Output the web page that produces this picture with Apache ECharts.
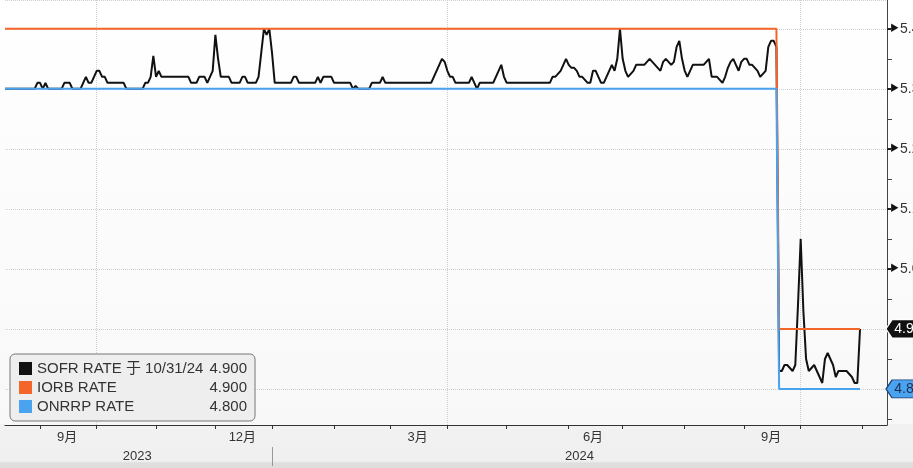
<!DOCTYPE html>
<html><head><meta charset="utf-8">
<script src="https://cdn.jsdelivr.net/npm/echarts@6/dist/echarts.min.js"></script>
<style>html,body{margin:0;padding:0;background:#f0f0f0;}#c{width:913px;height:468px;}</style>
</head><body><div id="c"></div>
<script>
// ---- data ----
const axisStart = '2023-08-15';
const axisEnd = '2024-11-14';
const lastObs = '2024-10-31';
const seriesNames = ['SOFR RATE', 'IORB RATE', 'ONRRP RATE'];
const legendNames = ['SOFR RATE 于 10/31/24', 'IORB RATE', 'ONRRP RATE'];
const sofrValues = [
5.30,5.30,5.30,5.30,5.30,5.30,5.30,5.30,5.30,5.30,
5.30,5.30,5.31,5.31,5.30,5.31,5.30,5.30,5.30,5.30,
5.30,5.30,5.31,5.31,5.31,5.30,5.30,5.30,5.30,5.31,
5.32,5.31,5.31,5.32,5.33,5.33,5.32,5.32,5.31,5.31,
5.31,5.31,5.31,5.31,5.31,5.30,5.30,5.30,5.30,5.30,
5.30,5.30,5.31,5.31,5.32,5.355,5.32,5.33,5.32,5.32,
5.32,5.32,5.32,5.32,5.32,5.32,5.32,5.32,5.32,5.31,
5.31,5.31,5.32,5.32,5.32,5.31,5.32,5.33,5.39,5.35,
5.32,5.32,5.32,5.32,5.31,5.31,5.31,5.31,5.32,5.32,
5.31,5.31,5.31,5.31,5.32,5.36,5.40,5.39,5.40,5.36,
5.31,5.31,5.31,5.31,5.31,5.31,5.31,5.32,5.32,5.31,
5.31,5.31,5.31,5.31,5.31,5.31,5.32,5.31,5.32,5.32,
5.32,5.32,5.31,5.31,5.31,5.31,5.31,5.31,5.31,5.30,
5.305,5.30,5.30,5.30,5.30,5.30,5.31,5.31,5.31,5.31,
5.32,5.31,5.31,5.31,5.31,5.31,5.31,5.31,5.31,5.31,
5.31,5.31,5.31,5.31,5.31,5.31,5.31,5.31,5.31,5.32,
5.33,5.34,5.35,5.345,5.33,5.32,5.32,5.31,5.31,5.31,
5.31,5.31,5.31,5.32,5.31,5.30,5.31,5.31,5.31,5.31,
5.31,5.31,5.32,5.33,5.34,5.32,5.31,5.31,5.31,5.31,
5.31,5.31,5.31,5.31,5.31,5.31,5.31,5.31,5.31,5.31,
5.31,5.31,5.31,5.32,5.32,5.325,5.33,5.34,5.35,5.34,
5.335,5.335,5.33,5.32,5.32,5.315,5.31,5.31,5.33,5.33,
5.32,5.31,5.31,5.32,5.33,5.34,5.33,5.35,5.40,5.35,
5.33,5.32,5.325,5.33,5.34,5.34,5.34,5.34,5.345,5.35,
5.345,5.34,5.335,5.33,5.345,5.35,5.345,5.34,5.345,5.37,
5.38,5.35,5.33,5.32,5.33,5.34,5.34,5.34,5.34,5.34,
5.345,5.35,5.32,5.32,5.32,5.315,5.31,5.32,5.335,5.345,
5.35,5.34,5.33,5.345,5.35,5.35,5.34,5.34,5.335,5.33,
5.32,5.325,5.33,5.37,5.38,5.38,5.37,4.83,4.83,4.84,
4.84,4.835,4.83,4.84,4.94,5.05,4.93,4.85,4.83,4.835,
4.84,4.83,4.82,4.81,4.85,4.86,4.85,4.84,4.82,4.83,
4.83,4.83,4.83,4.825,4.82,4.81,4.81,4.90
];
const policyChangeDates = ['2023-08-15', '2024-09-19'];
const iorbLevels = [5.40, 4.90];
const onrrpLevels = [5.30, 4.80];
const yLabelValues = [5.0, 5.1, 5.2, 5.3, 5.4];
const yHalfTicks = [4.75, 4.85, 4.95, 5.05, 5.15, 5.25, 5.35];
const quarterLabelMonths = [3, 6, 9, 12];
const verticalGridMonths = [4, 10];
const colors = ['#111111', '#f4652a', '#4aa3ef'];

// ---- build categories (business days) ----
function weekdays(a, b) {
  const out = [];
  const d = new Date(a + 'T00:00:00Z'), e = new Date(b + 'T00:00:00Z');
  while (d <= e) {
    const w = d.getUTCDay();
    if (w !== 0 && w !== 6) out.push(d.toISOString().slice(0, 10));
    d.setUTCDate(d.getUTCDate() + 1);
  }
  return out;
}
const dates = weekdays(axisStart, axisEnd);
const obsCount = dates.filter(d => d <= lastObs).length;
const shift = obsCount - sofrValues.length;
const sofrData = dates.map((d, i) => (i < obsCount && i - shift >= 0) ? sofrValues[i - shift] : null);
function stepSeries(levels) {
  return dates.map(d => {
    if (d > lastObs) return null;
    let v = null;
    policyChangeDates.forEach((c, k) => { if (d >= c) v = levels[k]; });
    return v;
  });
}
const iorbData = stepSeries(iorbLevels);
const onrrpData = stepSeries(onrrpLevels);

const firstOfMonth = dates.map((d, i) => i === 0 ? false : d.slice(0, 7) !== dates[i - 1].slice(0, 7));
const monthMid = new Set();
(function () {
  const groups = {};
  dates.forEach((d, i) => { const k = d.slice(0, 7); (groups[k] = groups[k] || []).push(i); });
  Object.keys(groups).forEach(k => {
    const g = groups[k];
    const m = +k.slice(5, 7);
    if (g.length > 15 && quarterLabelMonths.includes(m)) monthMid.add(g[Math.floor((g.length - 1) / 2)]);
  });
})();
const yearMid = new Set();
let yearBoundary = -1;
(function () {
  const groups = {};
  dates.forEach((d, i) => { const k = d.slice(0, 4); (groups[k] = groups[k] || []).push(i); });
  Object.keys(groups).forEach(k => {
    const g = groups[k];
    yearMid.add(Math.round((g[0] + g[g.length - 1]) / 2));
    if (g[0] > 0) yearBoundary = g[0];
  });
})();

const lastIdx = obsCount - 1;
const legendValue = {
  'SOFR RATE': sofrData[lastIdx].toFixed(3),
  'IORB RATE': iorbData[lastIdx].toFixed(3),
  'ONRRP RATE': onrrpData[lastIdx].toFixed(3)
};
const legendLabel = {};
seriesNames.forEach((n, i) => legendLabel[n] = legendNames[i]);

const FONT = '"Liberation Sans", "Noto Sans CJK SC", sans-serif';
const chart = echarts.init(document.getElementById('c'), null, {renderer: 'canvas'});
const yMin = 4.74, yMax = 5.448;

function tag(value, fill, border, textColor) {
  return {
    symbol: 'path://M0,9L6,0L30,0L30,18L6,18Z',
    symbolSize: [30, 18],
    symbolOffset: [14, 0],
    data: [{coord: [dates[dates.length - 1], value], value: value}],
    itemStyle: {color: fill, borderColor: border, borderWidth: 1},
    label: {show: true, position: 'inside', offset: [3, 0], formatter: value.toFixed(1),
      color: textColor, fontSize: 14, fontFamily: FONT},
    silent: true,
    animation: false
  };
}

chart.setOption({
  animation: false,
  backgroundColor: {type: 'linear', x: 0, y: 0, x2: 0, y2: 1,
    colorStops: [{offset: 0, color: '#ffffff'}, {offset: 0.905, color: '#f8f8f8'},
                 {offset: 0.906, color: '#f1f1f1'}, {offset: 0.985, color: '#f0f0f0'}, {offset: 0.99, color: '#dedede'}, {offset: 1, color: '#dedede'}]},
  grid: {left: 5, right: 26, top: 0, bottom: 43, show: true, borderWidth: 0,
    outerBoundsMode: 'none', containLabel: false,
    backgroundColor: {type: 'linear', x: 0, y: 0, x2: 0, y2: 1,
      colorStops: [{offset: 0, color: '#ffffff'}, {offset: 1, color: '#f8f8f8'}]}},
  legend: {
    left: 10, top: 354, orient: 'vertical', icon: 'rect', itemWidth: 13, itemHeight: 13, itemGap: 4,
    padding: [7, 8, 7, 9], backgroundColor: '#eeeeee', borderColor: '#777', borderWidth: 1, borderRadius: 5,
    selectedMode: false,
    data: seriesNames,
    formatter: n => `{n|${legendLabel[n]}}{v|${legendValue[n]}}`,
    textStyle: {fontFamily: FONT, fontSize: 15, color: '#333',
      rich: {n: {width: 170, fontFamily: FONT, fontSize: 15, color: '#333'},
             v: {width: 40, align: 'right', fontFamily: FONT, fontSize: 15, color: '#333'}}}
  },
  xAxis: [{
    type: 'category', data: dates, boundaryGap: false, position: 'bottom',
    axisLine: {lineStyle: {color: '#333', width: 1}},
    axisTick: {interval: (i) => firstOfMonth[i], length: 4, lineStyle: {color: '#333'}},
    axisLabel: {interval: (i) => monthMid.has(i), formatter: v => (+v.slice(5, 7)) + '月',
      margin: 6, color: '#333', fontSize: 13, fontFamily: FONT},
    splitLine: {show: true, interval: (i) => firstOfMonth[i] && verticalGridMonths.includes(+dates[i].slice(5, 7)),
      lineStyle: {color: '#cfcfcf', type: 'dotted', width: 1}}
  }, {
    type: 'category', data: dates, boundaryGap: false, position: 'bottom', offset: 22,
    axisLine: {show: false},
    axisTick: {interval: (i) => i === yearBoundary, length: 19, lineStyle: {color: '#999'}},
    axisLabel: {interval: (i) => yearMid.has(i), formatter: v => v.slice(0, 4),
      margin: 3, color: '#333', fontSize: 13, fontFamily: FONT},
    splitLine: {show: false}
  }],
  yAxis: [{
    type: 'value', position: 'right', min: yMin, max: yMax, splitNumber: 7, minInterval: 0.1, maxInterval: 0.1,
    axisLine: {show: true, lineStyle: {color: '#444', width: 1}},
    axisTick: {show: true, length: 4, lineStyle: {color: '#222', width: 2}},
    axisLabel: {showMinLabel: false, showMaxLabel: false, margin: 3,
      formatter: v => yLabelValues.some(t => Math.abs(t - v) < 1e-6) ? '{t|▶}' + v.toFixed(1) : '',
      color: '#333', fontSize: 14, fontFamily: FONT,
      rich: {t: {fontSize: 9, color: '#111', padding: [0, 1, 0, 0]}}},
    splitLine: {show: true, lineStyle: {color: '#cfcfcf', type: 'dotted', width: 1}}
  }, {
    type: 'value', position: 'right', min: yMin, max: yMax,
    axisLine: {show: false},
    axisTick: {show: true, customValues: yHalfTicks, length: 5, lineStyle: {color: '#444'}},
    axisLabel: {show: false},
    splitLine: {show: false}
  }],
  series: [{
    name: seriesNames[0], type: 'line', data: sofrData, showSymbol: false, symbol: 'none', z: 3,
    lineStyle: {color: colors[0], width: 2}, itemStyle: {color: colors[0]},
    markPoint: tag(sofrData[lastIdx], '#111', '#fff', '#fff')
  }, {
    name: seriesNames[1], type: 'line', data: iorbData, showSymbol: false, symbol: 'none', z: 4,
    lineStyle: {color: colors[1], width: 2}, itemStyle: {color: colors[1]}
  }, {
    name: seriesNames[2], type: 'line', data: onrrpData, showSymbol: false, symbol: 'none', z: 5,
    lineStyle: {color: colors[2], width: 2}, itemStyle: {color: colors[2]},
    markPoint: tag(onrrpData[lastIdx], '#4aa3ef', '#1c3f73', '#1c2f55')
  }]
});
</script></body></html>
